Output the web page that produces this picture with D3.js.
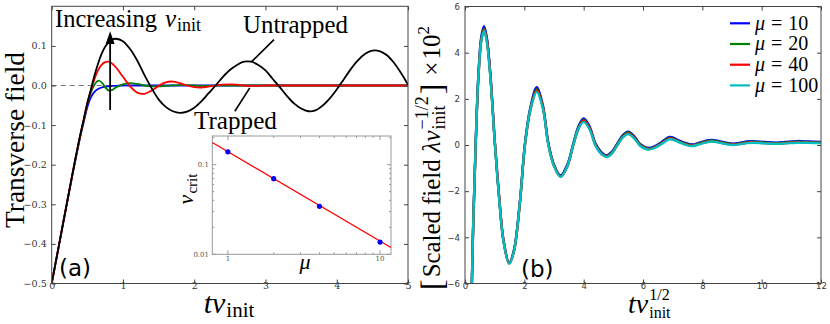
<!DOCTYPE html>
<html><head><meta charset="utf-8">
<script src="https://cdn.jsdelivr.net/npm/d3@7"></script>
<style>body{margin:0;background:#fff} svg{display:block}</style>
</head><body>
<svg id="c" width="830" height="324"></svg>
<script>
// ---------------- DATA ----------------
// Panel (a): transverse field vs t*v_init for increasing v_init
const tA = [0, 0.1, 0.2, 0.3, 0.4, 0.45, 0.5, 0.55, 0.6, 0.65, 0.7, 0.75, 0.8, 0.85, 0.9,
  1.0, 1.1, 1.2, 1.3, 1.4, 1.5, 1.6, 1.7, 1.8, 1.9, 2.0, 2.1, 2.2, 2.3, 2.4, 2.5, 2.6, 2.7, 2.8, 2.9,
  3.0, 3.1, 3.2, 3.3, 3.4, 3.5, 3.6, 3.7, 3.8, 3.9, 4.0, 4.1, 4.2, 4.3, 4.4, 4.5, 4.6, 4.7, 4.8, 4.9, 5.0];
const fieldBlue = [-0.5, -0.405, -0.31, -0.218, -0.13, -0.092, -0.055, -0.03, -0.016, -0.009, -0.005, -0.003, -0.002, -0.001, -0.001,
  0, 0, 0, 0, 0, 0, 0, 0, 0, 0, 0, 0, 0, 0, 0, 0, 0, 0, 0, 0,
  0, 0, 0, 0, 0, 0, 0, 0, 0, 0, 0, 0, 0, 0, 0, 0, 0, 0, 0, 0, 0];
const fieldGreen = [-0.5, -0.405, -0.31, -0.216, -0.128, -0.088, -0.047, -0.018, 0.002, 0.012, 0.008, -0.004, -0.013, -0.011, -0.005,
  0.003, 0.006, 0.004, 0.0, -0.002, -0.002, -0.001, 0.0, 0.001, 0.001, 0.0, -0.001, -0.001, 0, 0, 0, 0, 0, 0, 0,
  0, 0, 0, 0, 0, 0, 0, 0, 0, 0, 0, 0, 0, 0, 0, 0, 0, 0, 0, 0, 0];
const fieldRed = [-0.5, -0.405, -0.31, -0.215, -0.126, -0.086, -0.045, -0.012, 0.016, 0.038, 0.052, 0.059, 0.06, 0.055, 0.046,
  0.022, -0.002, -0.018, -0.021, -0.013, -0.001, 0.008, 0.01, 0.006, 0.0, -0.004, -0.005, -0.003, 0.0, 0.002, 0.003, 0.002, 0.0, -0.001, -0.001,
  0, 0, 0, 0, 0, 0, 0, 0, 0, 0, 0, 0, 0, 0, 0, 0, 0, 0, 0, 0, 0];
const fieldUntrapped = [-0.5, -0.405, -0.31, -0.215, -0.125, -0.085, -0.045, -0.01, 0.025, 0.055, 0.08, 0.098, 0.109, 0.116, 0.118,
  0.112, 0.092, 0.063, 0.027, -0.006, -0.035, -0.054, -0.065, -0.069, -0.066, -0.056, -0.04, -0.02, 0.0, 0.021, 0.039, 0.052, 0.06, 0.06, 0.052,
  0.038, 0.017, -0.004, -0.026, -0.045, -0.058, -0.065, -0.063, -0.051, -0.033, -0.01, 0.016, 0.042, 0.064, 0.08, 0.088, 0.087, 0.077, 0.058, 0.032, 0.002];
const xTicksA = [0, 1, 2, 3, 4, 5];
const xTickLabelsA = ["0", "1", "2", "3", "4", "5"];
const yTicksA = [-0.5, -0.4, -0.3, -0.2, -0.1, 0.0, 0.1];
const yTickLabelsA = ["\u22120.5", "\u22120.4", "\u22120.3", "\u22120.2", "\u22120.1", "0.0", "0.1"];

// Inset: critical velocity vs mu (log-log)
const muPts = [1, 2, 4, 10];
const vCritPts = [0.139, 0.0698, 0.0343, 0.0137];
const muFit = [0.79, 11.8];
const vCritFit = [0.177, 0.0119];

// Panel (b): scaled field vs t*v_init^(1/2)
const tB = [0.2, 0.27, 0.36, 0.45, 0.55, 0.64, 0.73, 0.85, 1.01, 1.15, 1.3, 1.49, 1.65, 1.85, 2.02,
  2.2, 2.42, 2.62, 2.81, 3.0, 3.22, 3.45, 3.65, 3.83, 4.0, 4.2, 4.4, 4.6, 4.77, 4.95,
  5.15, 5.33, 5.5, 5.7, 5.9, 6.18, 6.4, 6.6, 6.91, 7.2, 7.4, 7.64, 7.9, 8.1, 8.31,
  8.6, 8.8, 9.04, 9.3, 9.5, 9.71, 10.1, 10.5, 10.8, 11.17, 11.6, 12];
const scaledMu10 = [-8, -3.7, 0.1, 3.0, 4.7, 5.15, 4.7, 3.15, 0.05, -2.25, -4.15, -5.1, -4.55, -2.45, 0.05,
  1.6, 2.5, 1.75, 0.08, -0.85, -1.32, -0.85, 0.06, 0.82, 1.15, 0.8, 0.06, -0.32, -0.45, -0.3,
  0.1, 0.44, 0.58, 0.39, 0.05, -0.13, -0.05, 0.1, 0.35, 0.2, 0.1, 0.02, 0.1, 0.18, 0.22,
  0.16, 0.1, 0.06, 0.1, 0.15, 0.17, 0.13, 0.1, 0.13, 0.17, 0.15, 0.13];
const scaledMu20 = [-8, -3.75, 0.05, 2.95, 4.6, 5.05, 4.6, 3.08, 0.02, -2.28, -4.18, -5.12, -4.57, -2.48, 0.03,
  1.55, 2.42, 1.68, 0.04, -0.89, -1.35, -0.89, 0.03, 0.77, 1.1, 0.74, 0.02, -0.36, -0.48, -0.33,
  0.06, 0.4, 0.54, 0.35, 0.02, -0.16, -0.08, 0.06, 0.31, 0.17, 0.07, -0.01, 0.07, 0.15, 0.2,
  0.13, 0.07, 0.04, 0.07, 0.12, 0.14, 0.1, 0.08, 0.1, 0.14, 0.12, 0.11];
const scaledMu40 = [-8, -3.9, -0.05, 2.85, 4.52, 5.0, 4.6, 3.1, 0.05, -2.2, -4.15, -5.13, -4.62, -2.55, -0.03,
  1.48, 2.36, 1.66, 0.03, -0.9, -1.37, -0.93, -0.01, 0.72, 1.05, 0.72, 0.0, -0.38, -0.5, -0.36,
  0.03, 0.36, 0.5, 0.32, 0.0, -0.18, -0.1, 0.04, 0.28, 0.15, 0.05, -0.03, 0.05, 0.12, 0.17,
  0.11, 0.05, 0.02, 0.05, 0.1, 0.12, 0.08, 0.06, 0.08, 0.12, 0.1, 0.09];
const scaledMu100 = [-8, -3.8, 0, 2.9, 4.5, 4.95, 4.5, 3.0, 0, -2.3, -4.2, -5.15, -4.6, -2.5, 0,
  1.5, 2.3, 1.6, 0, -0.92, -1.38, -0.92, 0, 0.72, 1.0, 0.67, -0.03, -0.4, -0.52, -0.37,
  0.02, 0.34, 0.47, 0.29, -0.03, -0.2, -0.12, 0.02, 0.25, 0.13, 0.03, -0.05, 0.03, 0.1, 0.15,
  0.09, 0.04, 0.0, 0.04, 0.08, 0.1, 0.07, 0.05, 0.07, 0.1, 0.09, 0.08];
const muLegend = ["10", "20", "40", "100"];
const xTicksB = [0, 2, 4, 6, 8, 10, 12];
const yTicksB = [-6, -4, -2, 0, 2, 4, 6];
const yTickLabelsB = ["\u22126", "\u22124", "\u22122", "0", "2", "4", "6"];

// ---------------- DRAWING ----------------
const SERIF = "'Liberation Serif', 'Times New Roman', serif";
const TSERIF = "'DejaVu Serif', serif";
const SANS = "'DejaVu Sans', sans-serif";
const svg = d3.select("#c");

// sequential math-like text layout; `fit` scales a piece's font to a target width
function mathText(parent, x, y, pieces, opt = {}) {
  const anchor = opt.anchor || 0, rot = opt.rotate || 0, fam = opt.family || SERIF;
  const g = parent.append("g");
  const inner = g.append("g");
  let cur = 0, prevStart = 0, prevEnd = 0;
  pieces.forEach(p => {
    const start = p.back ? prevStart : cur + (p.dx || 0);
    const t = inner.append("text").attr("x", start).attr("y", p.dy || 0)
      .attr("font-family", p.family || fam).attr("font-size", p.size)
      .attr("font-style", p.italic ? "italic" : "normal").attr("fill", opt.fill || "#000").text(p.s);
    let w = t.node().getComputedTextLength();
    if (p.fit && w > 0) {
      t.attr("font-size", p.size * p.fit / w);
      w = t.node().getComputedTextLength();
    }
    const end = start + w;
    if (p.back) { cur = Math.max(prevEnd, end); prevEnd = cur; }
    else { prevStart = start; prevEnd = end; cur = end; }
  });
  inner.attr("transform", `translate(${-cur * anchor},0)`);
  g.attr("transform", `translate(${x},${y}) rotate(${rot})`);
  return g;
}

function frameAxes(g, x, y, xt, xl, yt, yl, font, size) {
  const [x0, x1] = x.range(), [y0, y1] = y.range();
  const ax = g.append("g").attr("transform", `translate(0,${y0})`)
    .call(d3.axisBottom(x).tickValues(xt).tickFormat((d, i) => xl[i]).tickSizeInner(-4).tickSizeOuter(0).tickPadding(-1));
  const axT = g.append("g").attr("transform", `translate(0,${y1})`)
    .call(d3.axisTop(x).tickValues(xt).tickFormat("").tickSizeInner(-4).tickSizeOuter(0));
  const ay = g.append("g").attr("transform", `translate(${x0},0)`)
    .call(d3.axisLeft(y).tickValues(yt).tickFormat((d, i) => yl[i]).tickSizeInner(-4).tickSizeOuter(0).tickPadding(5));
  const ayR = g.append("g").attr("transform", `translate(${x1},0)`)
    .call(d3.axisRight(y).tickValues(yt).tickFormat("").tickSizeInner(-4).tickSizeOuter(0));
  [ax, axT, ay, ayR].forEach(a => {
    a.select(".domain").remove();
    a.selectAll("line").attr("stroke", "#444");
    a.selectAll("text").attr("font-family", font).attr("font-size", size).attr("fill", "#333");
  });
  g.append("rect").attr("x", x0).attr("y", y1).attr("width", x1 - x0).attr("height", y0 - y1)
    .attr("fill", "none").attr("stroke", "#444").attr("stroke-width", 1);
}

// ===== Panel (a) =====
const xA = d3.scaleLinear().domain([0, 5]).range([51.7, 408]);
const yA = d3.scaleLinear().domain([-0.5, 0.2]).range([283.5, 6.3]);
const gA = svg.append("g");
svg.append("clipPath").attr("id", "clipA").append("rect")
  .attr("x", 51.7).attr("y", 6.3).attr("width", 408 - 51.7).attr("height", 283.5 - 6.3);

gA.append("line").attr("x1", xA(0)).attr("x2", xA(5)).attr("y1", yA(0)).attr("y2", yA(0))
  .attr("stroke", "#777").attr("stroke-width", 1).attr("stroke-dasharray", "5,4");

const lineA = d3.line().x((d, i) => xA(tA[i])).y(d => yA(d)).curve(d3.curveCatmullRom.alpha(0.5));
const curvesA = [[fieldBlue, "#0000ff"], [fieldGreen, "#008000"], [fieldRed, "#ff0000"], [fieldUntrapped, "#000000"]];
const cg = gA.append("g").attr("clip-path", "url(#clipA)");
curvesA.forEach(([v, c]) => {
  cg.append("path").attr("d", lineA(v)).attr("fill", "none").attr("stroke", c).attr("stroke-width", 1.8);
});

frameAxes(gA, xA, yA, xTicksA, xTickLabelsA, yTicksA, yTickLabelsA, TSERIF, 9.5);

// arrow
const arX = xA(0.82);
gA.append("line").attr("x1", arX).attr("x2", arX).attr("y1", yA(-0.062)).attr("y2", yA(0.11))
  .attr("stroke", "#000").attr("stroke-width", 1.8);
gA.append("path").attr("d", `M${arX},${yA(0.137)} L${arX - 4.5},${yA(0.105)} L${arX + 4.5},${yA(0.105)} Z`).attr("fill", "#000");

// annotation leaders
gA.append("line").attr("x1", xA(3.12)).attr("y1", yA(0.116)).attr("x2", xA(2.81)).attr("y2", yA(0.061))
  .attr("stroke", "#000").attr("stroke-width", 1.6);
gA.append("line").attr("x1", xA(2.78)).attr("y1", yA(-0.006)).attr("x2", xA(2.57)).attr("y2", yA(-0.065))
  .attr("stroke", "#000").attr("stroke-width", 1.6);

mathText(svg, 55, 27, [
  { s: "Increasing", size: 25, fit: 102 },
  { s: "v", size: 25, italic: true, dx: 8 },
  { s: "init", size: 18, dy: 4, dx: 1 }
]);
mathText(svg, 243, 33, [{ s: "Untrapped", size: 25, fit: 105 }]);
mathText(svg, 194, 129, [{ s: "Trapped", size: 25, fit: 83 }]);
svg.append("text").attr("x", 59).attr("y", 276).attr("font-family", SANS).attr("font-size", 23).text("(a)");

// axis labels (a)
mathText(svg, 229, 313, [
  { s: "t", size: 30, italic: true },
  { s: "v", size: 30, italic: true },
  { s: "init", size: 21, dy: 4, dx: 1 }
], { anchor: 0.5 });
mathText(svg, 23.5, 140, [{ s: "Transverse field", size: 27, fit: 176 }], { anchor: 0.5, rotate: -90 });

// ===== Inset =====
const xi = d3.scaleLog().domain([0.79, 11.8]).range([212.3, 391]);
const yi = d3.scaleLog().domain([0.01, 0.209]).range([254.3, 136]);
const gi = svg.append("g");
gi.append("rect").attr("x", 212.3).attr("y", 136).attr("width", 391 - 212.3).attr("height", 254.3 - 136)
  .attr("fill", "#fff").attr("stroke", "#999").attr("stroke-width", 1);
const ixMaj = [1, 10], ixMin = [2, 3, 4, 5, 6, 7, 8, 9];
const iyMaj = [0.01, 0.1], iyMin = [0.02, 0.03, 0.04, 0.05, 0.06, 0.07, 0.08, 0.09, 0.2];
function tk(arr, len, horiz) {
  arr.forEach(v => {
    if (horiz) {
      const px = xi(v);
      gi.append("line").attr("x1", px).attr("x2", px).attr("y1", 254.3).attr("y2", 254.3 - len).attr("stroke", "#999");
      gi.append("line").attr("x1", px).attr("x2", px).attr("y1", 136).attr("y2", 136 + len).attr("stroke", "#999");
    } else {
      const py = yi(v);
      gi.append("line").attr("y1", py).attr("y2", py).attr("x1", 212.3).attr("x2", 212.3 + len).attr("stroke", "#999");
      gi.append("line").attr("y1", py).attr("y2", py).attr("x1", 391).attr("x2", 391 - len).attr("stroke", "#999");
    }
  });
}
tk(ixMaj, 4, true); tk(ixMin, 2, true); tk(iyMaj, 4, false); tk(iyMin, 2, false);
[["1", 1], ["10", 10]].forEach(([s, v]) => gi.append("text").attr("x", xi(v)).attr("y", 261)
  .attr("text-anchor", "middle").attr("font-family", TSERIF).attr("font-size", 7).attr("fill", "#555").text(s));
[["0.1", 0.1], ["0.01", 0.01]].forEach(([s, v]) => gi.append("text").attr("x", 209).attr("y", yi(v) + 2.5)
  .attr("text-anchor", "end").attr("font-family", TSERIF).attr("font-size", 7).attr("fill", "#555").text(s));
gi.append("path").attr("d", d3.line().x((d, i) => xi(muFit[i])).y(d => yi(d))(vCritFit))
  .attr("fill", "none").attr("stroke", "#ff0000").attr("stroke-width", 1.3);
muPts.forEach((m, i) => gi.append("circle").attr("cx", xi(m)).attr("cy", yi(vCritPts[i])).attr("r", 2.6).attr("fill", "#0000ff"));
mathText(svg, 305, 269, [{ s: "\u03bc", size: 22, italic: true }], { anchor: 0.5 });
mathText(svg, 193, 189, [
  { s: "v", size: 22, italic: true },
  { s: "crit", size: 15, dy: 4, dx: 1 }
], { anchor: 0.5, rotate: -90 });

// ===== Panel (b) =====
const xB = d3.scaleLinear().domain([0, 12]).range([465, 821]);
const yB = d3.scaleLinear().domain([-6, 6]).range([283.5, 6.5]);
const gB = svg.append("g");
svg.append("clipPath").attr("id", "clipB").append("rect")
  .attr("x", 465).attr("y", 6.5).attr("width", 821 - 465).attr("height", 283.5 - 6.5);
const lineB = d3.line().x((d, i) => xB(tB[i])).y(d => yB(d)).curve(d3.curveCatmullRom.alpha(0.5));
const seriesB = [[scaledMu10, "#0000ff"], [scaledMu20, "#008000"], [scaledMu40, "#ff0000"], [scaledMu100, "#00bfbf"]];
const cgB = gB.append("g").attr("clip-path", "url(#clipB)");
seriesB.forEach(([v, c]) => {
  cgB.append("path").attr("d", lineB(v)).attr("fill", "none").attr("stroke", c).attr("stroke-width", 2.4);
});
frameAxes(gB, xB, yB, xTicksB, xTicksB.map(String), yTicksB, yTickLabelsB, SANS, 8.5);

// legend
seriesB.forEach(([v, c], i) => {
  const yy = 23.3 + i * 20.7;
  gB.append("line").attr("x1", 730).attr("x2", 750).attr("y1", yy).attr("y2", yy).attr("stroke", c).attr("stroke-width", 2.2);
  mathText(svg, 755, yy + 6.2, [
    { s: "\u03bc", size: 20, italic: true },
    { s: "=", size: 20, dx: 6 },
    { s: muLegend[i], size: 20, dx: 6 }
  ]);
});
svg.append("text").attr("x", 521).attr("y", 277).attr("font-family", SANS).attr("font-size", 23).text("(b)");

// axis labels (b)
mathText(svg, 628, 313, [
  { s: "t", size: 28, italic: true },
  { s: "v", size: 28, italic: true },
  { s: "1/2", size: 16, dy: -13, dx: 1 },
  { s: "init", size: 16, dy: 5, back: true }
]);
mathText(svg, 440, 290, [
  { s: "[", size: 32, dy: 3 },
  { s: "Scaled field", size: 25, dx: 2, fit: 118 },
  { s: "\u03bb", size: 25, italic: true, dx: 7 },
  { s: "v", size: 25, italic: true },
  { s: "\u22121/2", size: 18, dy: -12, dx: 1 },
  { s: "init", size: 18, dy: 5, back: true },
  { s: "]", size: 32, dy: 3, dx: 2 },
  { s: "\u00d7", size: 25, dx: 8 },
  { s: "10", size: 25, dx: 2 },
  { s: "2", size: 17, dy: -11 }
], { rotate: -90 });
</script>
</body></html>
